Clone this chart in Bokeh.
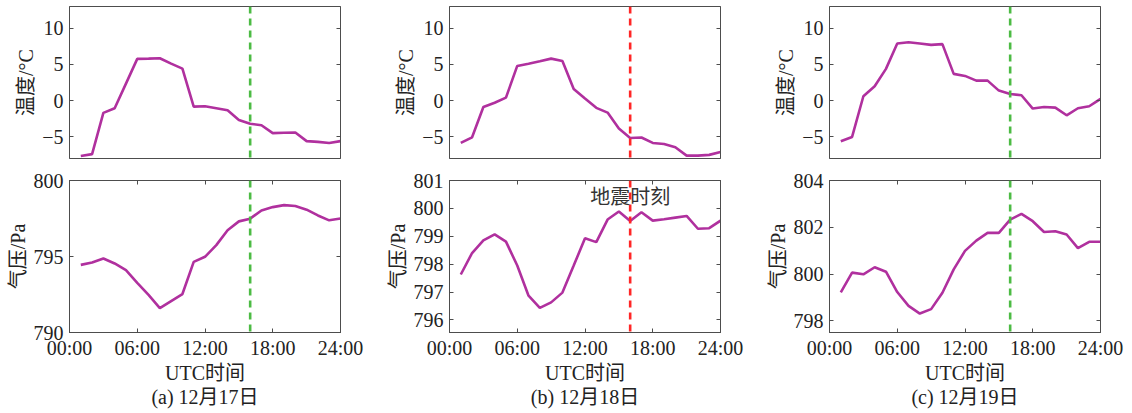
from bokeh.plotting import figure
from bokeh.models import Range1d, FixedTicker, LinearAxis, Span, Label, Title
from bokeh.layouts import row, column
from bokeh.embed import file_html
from bokeh.resources import INLINE

# ---------------- data ----------------
hours = list(range(1, 25))
x_ticks = [0, 6, 12, 18, 24]
x_tick_labels = ["00:00", "06:00", "12:00", "18:00", "24:00"]

temp_a = [-7.65, -7.4, -1.7, -1.05, 2.35, 5.76, 5.8, 5.85, 5.1, 4.42, -0.83, -0.78,
          -1.05, -1.34, -2.67, -3.2, -3.4, -4.5, -4.45, -4.4, -5.6, -5.7, -5.85, -5.6]
pres_a = [794.45, 794.6, 794.87, 794.54, 794.1, 793.27, 792.47, 791.6, 792.07, 792.53,
          794.65, 794.98, 795.75, 796.73, 797.31, 797.49, 798.03, 798.25, 798.38, 798.32,
          798.08, 797.7, 797.38, 797.5]

temp_b = [-5.85, -5.07, -0.88, -0.3, 0.41, 4.79, 5.1, 5.44, 5.8, 5.48, 1.61, 0.28,
          -1.0, -1.66, -3.87, -5.16, -5.1, -5.85, -6.0, -6.45, -7.6, -7.6, -7.5, -7.1]
pres_b = [797.63, 798.4, 798.85, 799.07, 798.81, 797.95, 796.87, 796.43, 796.63, 796.98,
          797.95, 798.93, 798.79, 799.6, 799.89, 799.55, 799.86, 799.56, 799.61, 799.67,
          799.73, 799.27, 799.29, 799.56]

temp_c = [-5.62, -5.02, 0.6, 1.98, 4.38, 7.88, 8.06, 7.88, 7.7, 7.8, 3.69, 3.41,
          2.76, 2.76, 1.38, 0.92, 0.74, -1.1, -0.88, -0.97, -2.03, -1.06, -0.78, 0.23]
pres_c = [799.22, 800.06, 799.99, 800.29, 800.1, 799.23, 798.64, 798.31, 798.5, 799.2,
          800.2, 800.99, 801.43, 801.76, 801.76, 802.33, 802.57, 802.26, 801.8, 801.83,
          801.69, 801.11, 801.38, 801.38]

temp_ticks = [-5, 0, 5, 10]
temp_tick_labels = ["\u22125", "0", "5", "10"]
pres_ticks_a = [790, 795, 800]
pres_ticks_b = [796, 797, 798, 799, 800, 801]
pres_ticks_c = [798, 800, 802, 804]

quake_hour = [16, 16, 16]
quake_label = "地震时刻"
captions = ["(a) 12月17日", "(b) 12月18日", "(c) 12月19日"]
temp_label = "温度/°C"
pres_label = "气压/Pa"
x_label = "UTC时间"

# ---------------- style ----------------
FONT = "'Liberation Serif', 'Noto Sans CJK SC'"
FS = "20px"
LINE_COLOR = "#b0309e"
AXIS_COLOR = "#4d4d4d"
TEXT_COLOR = "#222222"
GREEN = "#4cbb44"
RED = "#ff2626"
LEFT_B = 69
FRAME_W = 271


def style_axis(ax):
    ax.axis_line_color = AXIS_COLOR
    ax.major_tick_line_color = AXIS_COLOR
    ax.major_tick_in = 4
    ax.major_tick_out = 0
    ax.minor_tick_line_color = None
    ax.major_label_text_font = FONT
    ax.major_label_text_font_size = FS
    ax.major_label_text_color = TEXT_COLOR
    ax.axis_label_text_font = FONT
    ax.axis_label_text_font_size = FS
    ax.axis_label_text_font_style = "normal"
    ax.axis_label_text_color = TEXT_COLOR


def hidden_axis(ticks):
    ax = LinearAxis(ticker=FixedTicker(ticks=ticks))
    style_axis(ax)
    ax.major_label_text_font_size = "1px"
    ax.major_label_text_color = None
    ax.major_label_standoff = 0
    ax.axis_label_standoff = 0
    return ax


def make_panel(y_lo, y_hi, y_ticks, y_tick_labels, y_label, y_vals,
               quake, quake_color, bottom, border_right, border_top, border_bottom,
               caption=None):
    p = figure(frame_width=FRAME_W, frame_height=152, output_backend="svg",
               toolbar_location=None,
               x_range=Range1d(0, 24), y_range=Range1d(y_lo, y_hi),
               min_border_left=LEFT_B, min_border_right=border_right,
               min_border_top=border_top, min_border_bottom=border_bottom)
    p.grid.visible = False
    p.outline_line_color = AXIS_COLOR
    p.outline_line_width = 1
    p.background_fill_color = "white"
    p.border_fill_color = "white"

    p.yaxis.ticker = FixedTicker(ticks=y_ticks)
    p.yaxis.major_label_overrides = {t: l for t, l in zip(y_ticks, y_tick_labels)}
    style_axis(p.yaxis[0])
    p.yaxis.axis_label = y_label
    p.yaxis.major_label_standoff = 6
    p.yaxis.axis_label_standoff = 2

    if bottom:
        p.xaxis.ticker = FixedTicker(ticks=x_ticks)
        style_axis(p.xaxis[0])
        p.xaxis.major_label_overrides = {t: l for t, l in zip(x_ticks, x_tick_labels)}
        p.xaxis.major_label_standoff = 4
        p.xaxis.axis_label = x_label
        p.xaxis.axis_label_standoff = 0
        p.add_layout(hidden_axis(x_ticks), "above")
    else:
        p.xaxis.visible = False

    p.add_layout(hidden_axis(y_ticks), "right")

    p.line(hours, y_vals, line_color=LINE_COLOR, line_width=2.6)
    p.add_layout(Span(location=quake, dimension="height", line_color=quake_color,
                      line_width=2.6, line_dash="7 5"))

    if caption is not None:
        t = Title(text=caption, align="center", text_font=FONT, text_font_size=FS,
                  text_font_style="normal", text_color=TEXT_COLOR, standoff=-6)
        p.add_layout(t, "below")
    return p


right_b = [380 - LEFT_B - FRAME_W, 380 - LEFT_B - FRAME_W, 1132 - 760 - LEFT_B - FRAME_W]
temps = [temp_a, temp_b, temp_c]
press = [pres_a, pres_b, pres_c]
p_ranges = [(790, 800), (795.55, 801), (797.5, 804)]
p_ticks = [pres_ticks_a, pres_ticks_b, pres_ticks_c]
q_colors = [GREEN, RED, GREEN]

cols = []
for i in range(3):
    top = make_panel(-8, 13, temp_ticks, temp_tick_labels, temp_label,
                     temps[i], quake_hour[i], q_colors[i], False, right_b[i], 6, 10)
    bot = make_panel(p_ranges[i][0], p_ranges[i][1], p_ticks[i],
                     [str(v) for v in p_ticks[i]], pres_label, press[i],
                     quake_hour[i], q_colors[i], True, right_b[i], 12, 81, captions[i])
    if i == 1:
        bot.add_layout(Label(x=quake_hour[i], y=800.4, text=quake_label,
                             text_align="center", text_baseline="middle",
                             text_font=FONT, text_font_size="20px",
                             text_color="#333333"))
    cols.append(column(top, bot, spacing=0))

layout = row(*cols, spacing=0)
open("out.html", "w").write(file_html(layout, INLINE))
